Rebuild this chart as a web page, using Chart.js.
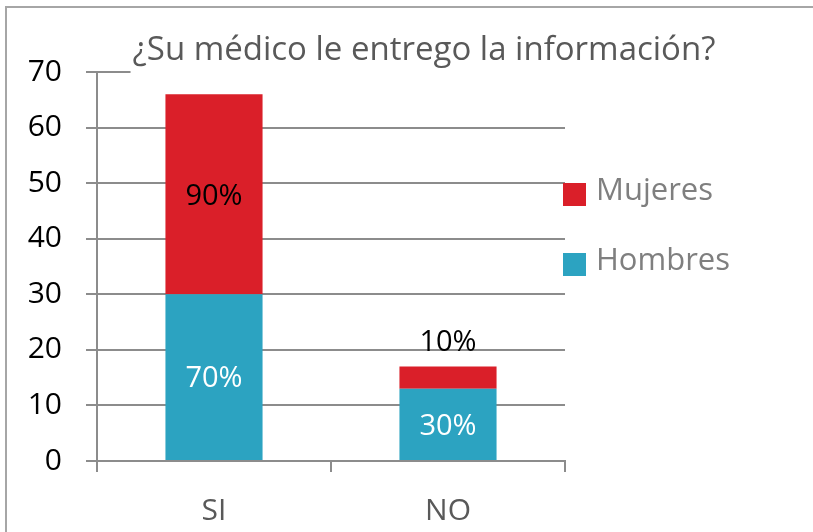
<!DOCTYPE html>
<html lang="es">
<head>
<meta charset="UTF-8">
<title>¿Su médico le entrego la información?</title>
<script src="https://cdn.jsdelivr.net/npm/chart.js"></script>
<style>
  html, body { margin: 0; padding: 0; background: #fff; }
  #wrap { position: relative; width: 813px; height: 532px; overflow: hidden; }
  #frame { position: absolute; left: 5px; top: 6px; width: 820px; height: 540px;
           border-left: 2px solid #a6a6a6; border-top: 2px solid #a6a6a6; }
  #chart { position: absolute; left: 0; top: 0; }
</style>
</head>
<body>
<div id="wrap">
  <div id="frame"></div>
  <canvas id="chart" width="813" height="532"></canvas>
</div>

<script>
// datos
const categories = ['SI', 'NO'];
const hombres = [30, 13];
const mujeres = [36, 4];
const hombresPct = ['70%', '30%'];
const mujeresPct = ['90%', '10%'];
const titleText = '¿Su médico le entrego la información?';

const FONT = '"Open Sans", "Noto Sans", sans-serif';
const GRID = '#8c8c8c';

// titulo con fondo blanco (tapa la linea de 70 como en Excel)
const titlePlugin = {
    id: 'titleBox',
    afterDraw(chart) {
        const ctx = chart.ctx;
        ctx.save();
        ctx.font = '33px ' + FONT;
        const w = ctx.measureText(titleText).width;
        const cx = 424;
        ctx.fillStyle = '#fff';
        ctx.fillRect(cx - w / 2 - 2, 26, w + 4, 50);
        ctx.fillStyle = '#595959';
        ctx.textAlign = 'center';
        ctx.textBaseline = 'middle';
        ctx.fillText(titleText, cx, 51);
        ctx.restore();
    }
};

// leyenda a la derecha, Mujeres arriba
const legendPlugin = {
    id: 'sideLegend',
    afterDraw(chart) {
        const ctx = chart.ctx;
        const area = chart.chartArea;
        const sets = chart.data.datasets.slice().reverse();
        ctx.save();
        ctx.font = '31px ' + FONT;
        ctx.textBaseline = 'middle';
        sets.forEach((ds, i) => {
            const y = area.top + 122 + i * 70;
            ctx.fillStyle = ds.backgroundColor;
            ctx.fillRect(area.right - 2, y - 11, 23, 23);
            ctx.fillStyle = '#7f7f7f';
            ctx.fillText(ds.label, area.right + 31, y - 3);
        });
        ctx.restore();
    }
};

// porcentajes sobre las barras
const pctPlugin = {
    id: 'pctLabels',
    afterDatasetsDraw(chart) {
        const ctx = chart.ctx;
        ctx.save();
        ctx.font = '29px ' + FONT;
        ctx.textAlign = 'center';
        ctx.textBaseline = 'middle';
        chart.data.datasets.forEach((ds, di) => {
            const meta = chart.getDatasetMeta(di);
            meta.data.forEach((bar, i) => {
                const h = Math.abs(bar.base - bar.y);
                let y = (bar.y + bar.base) / 2 + 2;
                if (h < 40) y = bar.y - 24;
                ctx.fillStyle = (h < 40) ? '#000' : ds.pctColor;
                ctx.fillText(ds.pct[i], bar.x, y);
            });
        });
        ctx.restore();
    }
};

new Chart(document.getElementById('chart'), {
    type: 'bar',
    data: {
        labels: categories,
        datasets: [
            {
                label: 'Hombres',
                data: hombres,
                pct: hombresPct,
                pctColor: '#ffffff',
                backgroundColor: '#2ca3c1',
                borderWidth: 0,
                categoryPercentage: 1,
                barPercentage: 0.415
            },
            {
                label: 'Mujeres',
                data: mujeres,
                pct: mujeresPct,
                pctColor: '#000000',
                backgroundColor: '#da1f29',
                borderWidth: 0,
                categoryPercentage: 1,
                barPercentage: 0.415
            }
        ]
    },
    options: {
        responsive: false,
        animation: false,
        layout: { padding: { top: 72, right: 248, left: 0, bottom: 0 } },
        plugins: {
            legend: { display: false },
            title: { display: false },
            tooltip: { enabled: false }
        },
        scales: {
            x: {
                stacked: true,
                grid: { offset: true, drawOnChartArea: false, drawTicks: true, tickLength: 11, color: GRID, lineWidth: 2 },
                border: { color: GRID, width: 2 },
                ticks: { color: '#595959', font: { family: FONT, size: 30 }, padding: 21 },
                afterFit: s => { s.height = 71; }
            },
            y: {
                stacked: true,
                min: 0,
                max: 70,
                ticks: { stepSize: 10, color: '#000', font: { family: FONT, size: 30 }, padding: 24 },
                grid: { color: GRID, lineWidth: 2, tickLength: 11 },
                border: { color: GRID, width: 2 },
                afterFit: s => { s.width = 97; }
            }
        }
    },
    plugins: [pctPlugin, titlePlugin, legendPlugin]
});
</script>
</body>
</html>
